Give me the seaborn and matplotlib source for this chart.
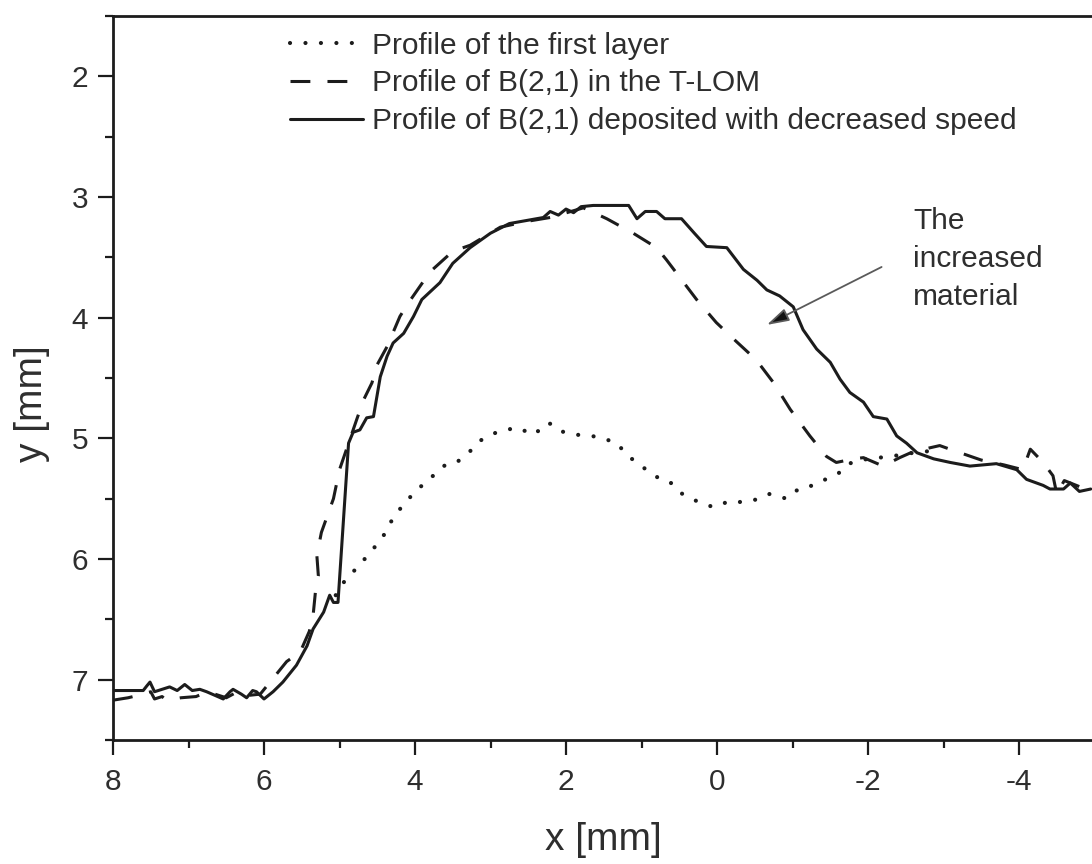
import matplotlib
matplotlib.use("Agg")
import matplotlib.pyplot as plt
from matplotlib.ticker import MultipleLocator
import seaborn as sns

# ---------------- data ----------------
labels = ["Profile of the first layer",
          "Profile of B(2,1) in the T-LOM",
          "Profile of B(2,1) deposited with decreased speed"]

first_x = [5.05, 4.93, 4.75, 4.57, 4.42, 4.29, 4.13, 3.96, 3.76, 3.58,
           3.43, 3.29, 3.14, 2.92, 2.65, 2.43, 2.23, 2.08, 1.86, 1.68,
           1.55, 1.33, 1.17, 0.98, 0.80, 0.64, 0.49, 0.27, 0.05, -0.17,
           -0.35, -0.57, -0.70, -0.92, -1.10, -1.28, -1.50, -1.67, -1.78, -2.0,
           -2.3, -2.6, -2.9]
first_y = [6.30, 6.18, 6.06, 5.93, 5.81, 5.66, 5.53, 5.42, 5.31, 5.21,
           5.19, 5.12, 5.02, 4.95, 4.91, 4.97, 4.87, 4.94, 4.97, 4.98,
           4.99, 5.04, 5.15, 5.24, 5.32, 5.35, 5.45, 5.52, 5.57, 5.52,
           5.53, 5.50, 5.46, 5.50, 5.41, 5.39, 5.32, 5.27, 5.20, 5.17,
           5.15, 5.12, 5.10]

tlom_x = [8.0, 7.8, 7.6, 7.5, 7.45, 7.35, 7.29, 7.1, 6.9, 6.75,
          6.6, 6.5, 6.35, 6.2, 6.05, 5.92, 5.70, 5.52, 5.40, 5.35,
          5.32, 5.28, 5.30, 5.24, 5.08, 5.0, 4.77, 4.68, 4.57, 4.51,
          4.37, 4.20, 4.09, 3.8, 3.5, 3.27, 2.87, 2.5, 2.21, 1.77,
          1.46, 1.11, 0.80, 0.67, 0.27, 0.01, -0.26, -0.52, -0.75, -0.97,
          -1.23, -1.45, -1.58, -1.81, -1.94, -2.20, -2.42, -2.60, -2.95, -3.13,
          -3.5, -3.8, -4.05, -4.15, -4.32, -4.45, -4.50, -4.6, -4.8, -4.95]
tlom_y = [7.17, 7.15, 7.12, 7.10, 7.16, 7.14, 7.17, 7.15, 7.14, 7.10,
          7.13, 7.15, 7.10, 7.13, 7.12, 7.02, 6.85, 6.77, 6.60, 6.47,
          6.28, 6.14, 5.97, 5.78, 5.50, 5.26, 4.84, 4.68, 4.54, 4.40,
          4.24, 3.99, 3.88, 3.62, 3.45, 3.40, 3.25, 3.20, 3.17, 3.09,
          3.18, 3.30, 3.42, 3.52, 3.85, 4.04, 4.20, 4.35, 4.54, 4.76,
          4.98, 5.15, 5.20, 5.17, 5.16, 5.23, 5.16, 5.11, 5.06, 5.10,
          5.18, 5.22, 5.26, 5.09, 5.20, 5.31, 5.46, 5.35, 5.40, 5.42]

slow_x = [8.0, 7.6, 7.55, 7.51, 7.45, 7.35, 7.25, 7.15, 7.05, 6.95,
          6.85, 6.76, 6.65, 6.54, 6.45, 6.41, 6.3, 6.23, 6.15, 6.10,
          6.0, 5.88, 5.75, 5.57, 5.43, 5.35, 5.21, 5.13, 5.08, 5.02,
          4.88, 4.82, 4.73, 4.64, 4.55, 4.46, 4.37, 4.29, 4.15, 4.02,
          3.91, 3.67, 3.5, 3.27, 3.0, 2.75, 2.48, 2.3, 2.21, 2.1,
          2.0, 1.9, 1.8, 1.64, 1.4, 1.17, 1.06, 0.95, 0.80, 0.69,
          0.47, 0.30, 0.14, -0.13, -0.35, -0.53, -0.66, -0.83, -1.01, -1.14,
          -1.32, -1.50, -1.63, -1.76, -1.94, -2.07, -2.25, -2.38, -2.51, -2.65,
          -2.87, -3.09, -3.35, -3.70, -3.97, -4.10, -4.32, -4.41, -4.59, -4.68,
          -4.8, -4.95]
slow_y = [7.09, 7.09, 7.05, 7.02, 7.10, 7.08, 7.06, 7.09, 7.04, 7.09,
          7.08, 7.10, 7.13, 7.16, 7.10, 7.08, 7.12, 7.15, 7.09, 7.10,
          7.16, 7.10, 7.02, 6.88, 6.72, 6.58, 6.44, 6.30, 6.36, 6.36,
          5.04, 4.95, 4.93, 4.83, 4.82, 4.49, 4.32, 4.21, 4.13, 3.99,
          3.85, 3.71, 3.55, 3.42, 3.30, 3.22, 3.19, 3.17, 3.12, 3.15,
          3.10, 3.13, 3.08, 3.07, 3.07, 3.07, 3.18, 3.12, 3.12, 3.18,
          3.18, 3.30, 3.41, 3.42, 3.60, 3.69, 3.77, 3.82, 3.91, 4.10,
          4.26, 4.37, 4.51, 4.62, 4.70, 4.82, 4.84, 4.98, 5.04, 5.12,
          5.17, 5.20, 5.23, 5.21, 5.26, 5.34, 5.39, 5.42, 5.42, 5.37,
          5.44, 5.42]

x_ticks = [8, 6, 4, 2, 0, -2, -4]
x_ticklabels = ["8", "6", "4", "2", "0", "-2", "-4"]
y_ticks = [2, 3, 4, 5, 6, 7]
y_ticklabels = ["2", "3", "4", "5", "6", "7"]
note_text = "The\nincreased\nmaterial"

# ---------------- styling ----------------
sns.set_theme(style="ticks")
plt.rcParams["font.family"] = ["Liberation Sans", "DejaVu Sans"]
plt.rcParams["axes.unicode_minus"] = False

ink = "#1c1c1c"
txt = "#2e2e2e"

fig = plt.figure(figsize=(10.92, 8.64), dpi=100)
fig.patch.set_facecolor("white")
ax = fig.add_axes([113 / 1092, 124 / 864, 981.5 / 1092, 724 / 864])
ax.set_facecolor("white")

sns.lineplot(x=first_x, y=first_y, sort=False, estimator=None, ax=ax,
             color=ink, linewidth=3.0, linestyle=(0, (0.01, 3.7)),
             dash_capstyle="round", label=labels[0])
sns.lineplot(x=tlom_x, y=tlom_y, sort=False, estimator=None, ax=ax,
             color=ink, linewidth=2.2, linestyle=(0, (6.5, 5.6)),
             label=labels[1])
sns.lineplot(x=slow_x, y=slow_y, sort=False, estimator=None, ax=ax,
             color=ink, linewidth=2.2, linestyle="-", label=labels[2])

ax.set_xlim(8, -5)
ax.set_ylim(7.5, 1.5)
ax.set_xticks(x_ticks)
ax.set_xticklabels(x_ticklabels)
ax.set_yticks(y_ticks)
ax.set_yticklabels(y_ticklabels)
ax.xaxis.set_minor_locator(MultipleLocator(1))
ax.yaxis.set_minor_locator(MultipleLocator(0.5))
ax.tick_params(axis="both", which="major", length=11, width=1.6, color=ink,
               labelsize=21.5, labelcolor=txt, direction="out", pad=7)
ax.tick_params(axis="both", which="minor", length=6, width=1.6, color=ink,
               direction="out")
ax.tick_params(axis="x", which="major", pad=9)

for side in ["left", "bottom", "top"]:
    ax.spines[side].set_visible(True)
    ax.spines[side].set_linewidth(2.0)
    ax.spines[side].set_color(ink)
ax.spines["right"].set_visible(False)

ax.set_xlabel("x [mm]", fontsize=28, color=txt, labelpad=19)
ax.set_ylabel("y [mm]", fontsize=28, color=txt)
ax.yaxis.set_label_coords(-0.064, 0.465)

leg = ax.legend(loc="upper left", bbox_to_anchor=(0.18, 0.978), frameon=False,
                fontsize=21.5, handlelength=2.45, handletextpad=0.3,
                labelspacing=0.32, borderpad=0, borderaxespad=0)
for t in leg.get_texts():
    t.set_color(txt)

ax.annotate("", xy=(-0.66, 4.06), xytext=(-2.18, 3.58),
            arrowprops=dict(arrowstyle="-|>,head_length=0.75,head_width=0.22",
                            ec="#5a5a5a", fc="#111111",
                            lw=1.3, mutation_scale=18, shrinkA=0, shrinkB=0))
ax.text(-2.60, 3.086, note_text, ha="left", va="top", fontsize=21.5,
        linespacing=1.45, color=txt)

fig.savefig("out.png", dpi=100, facecolor="white")
